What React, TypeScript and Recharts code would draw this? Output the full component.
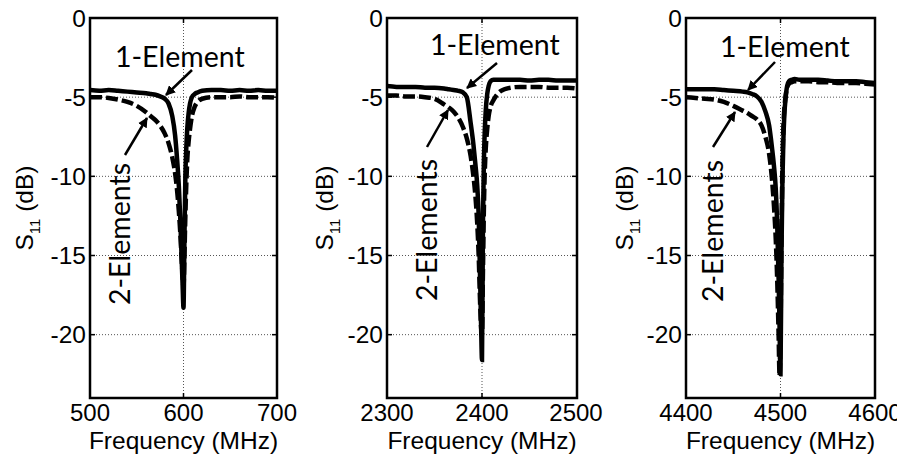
import React from "react";
import { LineChart, Line, XAxis, YAxis, CartesianGrid, ReferenceArea, ReferenceLine } from "recharts";

// 600 MHz band
const freqA = [500, 510, 520, 530, 540, 550, 560, 565, 570, 575, 580, 584, 588, 591, 593, 595, 596.5, 598, 599, 600, 601, 602, 603, 604, 605.5, 607, 609, 612, 615, 620, 630, 640, 650, 660, 670, 680, 690, 700];
const oneElemA = [-4.55, -4.6, -4.55, -4.6, -4.65, -4.7, -4.75, -4.8, -4.85, -4.95, -5.1, -5.4, -6.2, -7.4, -8.8, -10.6, -12.6, -15.2, -16.8, -18.3, -14.0, -10.0, -8.2, -7.0, -6.0, -5.4, -5.0, -4.8, -4.7, -4.6, -4.55, -4.55, -4.6, -4.55, -4.6, -4.55, -4.6, -4.6];
const twoElemA = [-5.0, -5.0, -5.05, -5.15, -5.3, -5.55, -5.95, -6.2, -6.45, -6.8, -7.3, -7.9, -8.8, -9.8, -10.8, -12.2, -13.5, -15.2, -16.2, -17.0, -15.0, -12.5, -10.5, -9.0, -7.8, -7.0, -6.2, -5.6, -5.3, -5.1, -5.0, -5.0, -5.0, -4.95, -5.0, -5.0, -5.0, -5.05];

// 2400 MHz band
const freqB = [2300, 2310, 2320, 2330, 2340, 2350, 2360, 2365, 2370, 2375, 2380, 2384, 2388, 2391, 2393, 2395, 2396.5, 2398, 2399, 2400, 2401, 2402, 2403, 2404, 2405.5, 2407, 2409, 2412, 2415, 2420, 2430, 2440, 2450, 2460, 2470, 2480, 2490, 2500];
const oneElemB = [-4.3, -4.35, -4.35, -4.35, -4.4, -4.4, -4.45, -4.5, -4.55, -4.6, -4.7, -5.0, -6.6, -8.0, -9.2, -10.6, -12.5, -16.5, -19.3, -21.6, -13.0, -9.0, -7.0, -5.8, -4.8, -4.3, -4.0, -3.9, -3.9, -3.9, -3.9, -3.9, -3.95, -3.9, -3.9, -3.95, -3.95, -3.95];
const twoElemB = [-4.9, -4.9, -4.95, -4.95, -5.0, -5.1, -5.45, -5.65, -5.9, -6.3, -6.9, -7.6, -8.7, -10.0, -11.2, -13.0, -15.0, -18.0, -19.5, -20.0, -16.0, -12.0, -9.6, -8.2, -7.0, -6.2, -5.6, -5.2, -4.9, -4.6, -4.4, -4.35, -4.35, -4.35, -4.4, -4.4, -4.4, -4.45];

// 4500 MHz band
const freqC = [4400, 4410, 4420, 4430, 4440, 4450, 4460, 4465, 4470, 4475, 4480, 4484, 4488, 4491, 4493, 4495, 4496.5, 4498, 4499, 4500, 4501, 4502, 4503, 4504, 4505.5, 4507, 4509, 4512, 4515, 4520, 4530, 4540, 4550, 4560, 4570, 4580, 4590, 4600];
const oneElemC = [-4.5, -4.5, -4.5, -4.5, -4.55, -4.6, -4.65, -4.7, -4.8, -4.95, -5.3, -5.9, -6.8, -8.2, -9.3, -10.8, -13.0, -16.5, -19.5, -22.5, -15.0, -10.5, -7.8, -6.2, -5.0, -4.3, -4.0, -3.9, -3.85, -3.9, -3.9, -3.9, -3.95, -4.0, -4.0, -4.0, -4.05, -4.1];
const twoElemC = [-5.0, -5.05, -5.1, -5.15, -5.3, -5.55, -5.85, -6.0, -6.2, -6.4, -6.8, -7.5, -8.6, -10.2, -11.8, -14.0, -16.5, -20.0, -22.6, -20.0, -14.0, -9.5, -7.0, -5.8, -4.9, -4.4, -4.15, -4.05, -4.0, -4.0, -4.0, -4.05, -4.05, -4.1, -4.1, -4.1, -4.15, -4.2];

const yTicks = [0, -5, -10, -15, -20];
const xTicksA = [500, 600, 700];
const xTicksB = [2300, 2400, 2500];
const xTicksC = [4400, 4500, 4600];
const Y_MIN = -24;

const toRows = (f: number[], a: number[], b: number[]) => f.map((x, i) => ({ f: x, one: a[i], two: b[i] }));

const TOP = 18;
const BOTTOM = 398;
const H = 454;
const axisFont = "'Liberation Sans', Arial, sans-serif";
const noteFont = "Lato, 'Open Sans', sans-serif";

type Note = { tx: number; ty: number; a: number[] };

function Panel(props: {
  id: string;
  left: number;
  width: number;
  plotLeft: number;
  plotRight: number;
  data: { f: number; one: number; two: number }[];
  xTicks: number[];
  one: Note;
  two: Note;
}) {
  const { id, left, width, plotLeft, plotRight, data, xTicks, one, two } = props;
  const xMin = xTicks[0];
  const xMax = xTicks[xTicks.length - 1];
  const pw = plotRight - plotLeft;
  const dx = ((xMax - xMin) * 5) / pw;
  const dy = (-Y_MIN * 5) / (BOTTOM - TOP);
  const cx = (plotLeft + plotRight) / 2;
  const cy = (TOP + BOTTOM) / 2;
  return (
    <div style={{ position: "absolute", left, top: 0, width, height: H }}>
      <LineChart
        width={width}
        height={H}
        data={data}
        margin={{ top: TOP, right: width - plotRight, bottom: 16, left: 0 }}
      >
        <CartesianGrid stroke="#555" strokeDasharray="1 2" strokeWidth={1} horizontalValues={yTicks} verticalValues={xTicks} />
        <XAxis
          dataKey="f"
          type="number"
          domain={[xMin, xMax]}
          ticks={xTicks}
          height={H - 16 - BOTTOM}
          tickLine={false}
          axisLine={false}
          tickSize={0}
          tickMargin={6}
          tick={{ fill: "#000", fontSize: 24, fontFamily: axisFont }}
          allowDataOverflow
        />
        <YAxis
          type="number"
          domain={[Y_MIN, 0]}
          ticks={yTicks}
          width={plotLeft}
          tickLine={false}
          axisLine={false}
          tickSize={0}
          tickMargin={4}
          tick={{ fill: "#000", fontSize: 24.5, fontFamily: axisFont }}
          allowDataOverflow
        />
        {yTicks.map((t) => (
          <ReferenceLine key={`yl${t}`} segment={[{ x: xMin, y: t }, { x: xMin + dx, y: t }]} stroke="#000" strokeWidth={1.5} />
        ))}
        {yTicks.map((t) => (
          <ReferenceLine key={`yr${t}`} segment={[{ x: xMax - dx, y: t }, { x: xMax, y: t }]} stroke="#000" strokeWidth={1.5} />
        ))}
        {xTicks.map((t) => (
          <ReferenceLine key={`xb${t}`} segment={[{ x: t, y: Y_MIN }, { x: t, y: Y_MIN + dy }]} stroke="#000" strokeWidth={1.5} />
        ))}
        {xTicks.map((t) => (
          <ReferenceLine key={`xt${t}`} segment={[{ x: t, y: -dy }, { x: t, y: 0 }]} stroke="#000" strokeWidth={1.5} />
        ))}
        <Line type="monotone" dataKey="two" stroke="#000" strokeWidth={4.5} strokeDasharray="12 4" dot={false} isAnimationActive={false} />
        <Line type="monotone" dataKey="one" stroke="#000" strokeWidth={4.5} dot={false} isAnimationActive={false} />
        <ReferenceArea x1={xMin} x2={xMax} y1={Y_MIN} y2={0} fill="none" fillOpacity={0} stroke="#000" strokeWidth={2.5} ifOverflow="visible" />
      </LineChart>
      <svg width={width} height={H} style={{ position: "absolute", left: 0, top: 0, overflow: "visible", pointerEvents: "none" }}>
        <defs>
          <marker id={`ah-${id}`} viewBox="0 0 10 10" refX="9" refY="5" markerWidth="4" markerHeight="4" orient="auto">
            <path d="M0,0 L10,5 L0,10 z" fill="#000" />
          </marker>
        </defs>
        <text x={one.tx} y={one.ty} fontSize={28.5} fontFamily={noteFont} fill="#000">
          1-Element
        </text>
        <line x1={one.a[0]} y1={one.a[1]} x2={one.a[2]} y2={one.a[3]} stroke="#000" strokeWidth={2.5} markerEnd={`url(#ah-${id})`} />
        <text
          x={two.tx}
          y={two.ty}
          fontSize={28.5}
          fontFamily={noteFont}
          fill="#000"
          textAnchor="middle"
          transform={`rotate(-90 ${two.tx} ${two.ty})`}
        >
          2-Elements
        </text>
        <line x1={two.a[0]} y1={two.a[1]} x2={two.a[2]} y2={two.a[3]} stroke="#000" strokeWidth={2.5} markerEnd={`url(#ah-${id})`} />
        <text x={cx} y={449} textAnchor="middle" fontSize={24.5} fontFamily={axisFont} fill="#000">
          Frequency (MHz)
        </text>
        <text x={33} y={cy} textAnchor="middle" fontSize={24.5} fontFamily={axisFont} fill="#000" transform={`rotate(-90 33 ${cy})`}>
          S
          <tspan fontSize={15} dy={7}>11</tspan>
          <tspan dy={-7}> (dB)</tspan>
        </text>
      </svg>
    </div>
  );
}

export default function App() {
  return (
    <div style={{ position: "relative", width: 905, height: 454, margin: "-8px 0 0 -8px", background: "#fff", overflow: "hidden" }}>
      <style>{`.recharts-surface { overflow: visible; }`}</style>
      <Panel
        id="a"
        left={0}
        width={300}
        plotLeft={90}
        plotRight={277}
        data={toRows(freqA, oneElemA, twoElemA)}
        xTicks={xTicksA}
        one={{ tx: 115, ty: 67, a: [192, 70, 166, 95] }}
        two={{ tx: 130, ty: 234, a: [125, 155, 147, 118] }}
      />
      <Panel
        id="b"
        left={300}
        width={300}
        plotLeft={87}
        plotRight={277}
        data={toRows(freqB, oneElemB, twoElemB)}
        xTicks={xTicksB}
        one={{ tx: 130, ty: 55, a: [197, 63, 167, 88] }}
        two={{ tx: 137, ty: 230, a: [127, 147, 148, 110] }}
      />
      <Panel
        id="c"
        left={600}
        width={305}
        plotLeft={86}
        plotRight={275}
        data={toRows(freqC, oneElemC, twoElemC)}
        xTicks={xTicksC}
        one={{ tx: 120, ty: 57, a: [175, 62, 148, 90] }}
        two={{ tx: 123, ty: 231, a: [113, 147, 135, 112] }}
      />
    </div>
  );
}
